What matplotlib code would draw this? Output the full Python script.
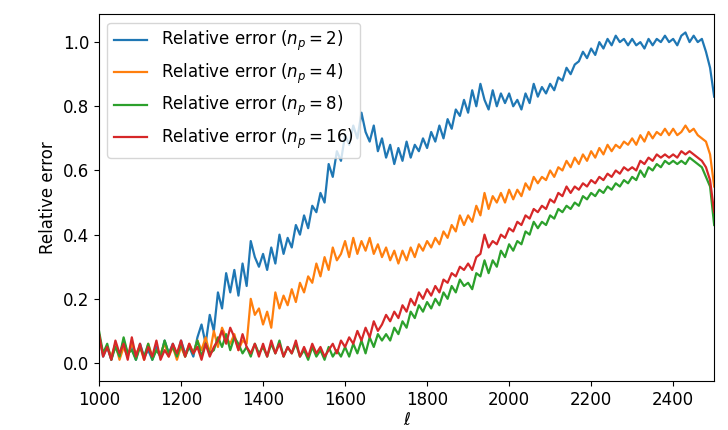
import numpy as np
import matplotlib
matplotlib.use('Agg')
import matplotlib.pyplot as plt

# multipole values, one sample every 10
ell = np.arange(1000, 2501, 10)

err_np2 = [
    0.09, 0.02, 0.05, 0.01, 0.06, 0.02, 0.07, 0.03, 0.05, 0.01,
    0.06, 0.02, 0.04, 0.01, 0.05, 0.02, 0.07, 0.03, 0.06, 0.02,
    0.07, 0.03, 0.05, 0.02, 0.08, 0.12, 0.06, 0.15, 0.10, 0.22,
    0.17, 0.28, 0.22, 0.29, 0.21, 0.31, 0.24, 0.38, 0.33, 0.30,
    0.34, 0.29, 0.36, 0.31, 0.40, 0.34, 0.39, 0.36, 0.43, 0.40,
    0.46, 0.42, 0.49, 0.47, 0.53, 0.50, 0.62, 0.58, 0.66, 0.63,
    0.71, 0.68, 0.74, 0.70, 0.78, 0.72, 0.69, 0.74, 0.66, 0.70,
    0.64, 0.68, 0.62, 0.67, 0.63, 0.69, 0.64, 0.68, 0.66, 0.70,
    0.67, 0.72, 0.69, 0.74, 0.70, 0.76, 0.73, 0.79, 0.77, 0.82,
    0.78, 0.85, 0.80, 0.87, 0.82, 0.79, 0.85, 0.80, 0.84, 0.81,
    0.84, 0.80, 0.82, 0.79, 0.84, 0.81, 0.87, 0.83, 0.86, 0.84,
    0.87, 0.85, 0.89, 0.88, 0.92, 0.90, 0.93, 0.94, 0.97, 0.95,
    0.98, 0.96, 1.00, 0.98, 1.01, 0.99, 1.02, 1.00, 1.01, 0.99,
    1.01, 0.99, 1.00, 0.98, 1.01, 0.99, 1.01, 1.00, 1.02, 1.00,
    1.01, 0.99, 1.02, 1.03, 1.00, 1.02, 1.00, 1.01, 0.97, 0.92,
    0.83]

err_np4 = [
    0.08, 0.03, 0.05, 0.02, 0.06, 0.01, 0.05, 0.02, 0.06, 0.03,
    0.05, 0.01, 0.06, 0.02, 0.04, 0.03, 0.06, 0.02, 0.05, 0.01,
    0.05, 0.02, 0.06, 0.03, 0.07, 0.04, 0.08, 0.03, 0.10, 0.05,
    0.11, 0.08, 0.06, 0.09, 0.04, 0.07, 0.06, 0.20, 0.15, 0.17,
    0.12, 0.16, 0.11, 0.22, 0.17, 0.21, 0.18, 0.23, 0.19, 0.25,
    0.22, 0.27, 0.25, 0.31, 0.27, 0.33, 0.29, 0.36, 0.32, 0.34,
    0.38, 0.33, 0.39, 0.34, 0.38, 0.35, 0.39, 0.34, 0.37, 0.33,
    0.36, 0.32, 0.35, 0.31, 0.35, 0.32, 0.36, 0.33, 0.37, 0.35,
    0.38, 0.36, 0.39, 0.37, 0.41, 0.39, 0.43, 0.41, 0.46, 0.43,
    0.46, 0.44, 0.49, 0.46, 0.53, 0.48, 0.52, 0.50, 0.53, 0.50,
    0.54, 0.51, 0.54, 0.52, 0.56, 0.54, 0.58, 0.56, 0.58, 0.57,
    0.60, 0.58, 0.61, 0.60, 0.63, 0.61, 0.64, 0.62, 0.65, 0.63,
    0.66, 0.64, 0.67, 0.65, 0.68, 0.66, 0.68, 0.67, 0.69, 0.68,
    0.70, 0.68, 0.71, 0.69, 0.72, 0.70, 0.72, 0.71, 0.73, 0.71,
    0.73, 0.71, 0.72, 0.74, 0.72, 0.73, 0.71, 0.70, 0.69, 0.65,
    0.55]

err_np8 = [
    0.10, 0.03, 0.06, 0.01, 0.05, 0.02, 0.08, 0.03, 0.04, 0.01,
    0.05, 0.02, 0.06, 0.01, 0.04, 0.02, 0.07, 0.03, 0.05, 0.02,
    0.06, 0.02, 0.05, 0.03, 0.07, 0.02, 0.06, 0.03, 0.04, 0.08,
    0.05, 0.09, 0.04, 0.08, 0.06, 0.03, 0.05, 0.02, 0.06, 0.03,
    0.05, 0.02, 0.06, 0.03, 0.07, 0.02, 0.05, 0.03, 0.06, 0.02,
    0.04, 0.01, 0.05, 0.02, 0.04, 0.01, 0.05, 0.02, 0.04, 0.02,
    0.05, 0.02, 0.06, 0.03, 0.07, 0.03, 0.08, 0.05, 0.09, 0.07,
    0.09, 0.07, 0.11, 0.09, 0.13, 0.11, 0.16, 0.14, 0.18, 0.16,
    0.19, 0.17, 0.20, 0.18, 0.22, 0.20, 0.24, 0.22, 0.26, 0.24,
    0.25, 0.23, 0.28, 0.27, 0.32, 0.28, 0.32, 0.30, 0.35, 0.33,
    0.37, 0.35, 0.38, 0.37, 0.41, 0.40, 0.44, 0.42, 0.44, 0.43,
    0.46, 0.45, 0.48, 0.47, 0.49, 0.48, 0.50, 0.49, 0.52, 0.51,
    0.53, 0.52, 0.54, 0.53, 0.55, 0.54, 0.56, 0.55, 0.57, 0.56,
    0.58, 0.57, 0.60, 0.58, 0.61, 0.60, 0.62, 0.61, 0.63, 0.62,
    0.63, 0.62, 0.63, 0.62, 0.64, 0.63, 0.62, 0.61, 0.58, 0.55,
    0.43]

err_np16 = [
    0.09, 0.02, 0.05, 0.01, 0.07, 0.03, 0.06, 0.01, 0.08, 0.02,
    0.06, 0.01, 0.05, 0.02, 0.07, 0.01, 0.04, 0.02, 0.06, 0.03,
    0.07, 0.02, 0.06, 0.03, 0.05, 0.01, 0.06, 0.02, 0.05, 0.07,
    0.10, 0.06, 0.11, 0.08, 0.04, 0.09, 0.05, 0.03, 0.06, 0.02,
    0.06, 0.02, 0.07, 0.03, 0.06, 0.02, 0.05, 0.03, 0.07, 0.02,
    0.05, 0.02, 0.06, 0.03, 0.05, 0.02, 0.04, 0.06, 0.03, 0.07,
    0.05, 0.08, 0.06, 0.10, 0.07, 0.11, 0.08, 0.13, 0.10, 0.12,
    0.15, 0.13, 0.16, 0.14, 0.18, 0.16, 0.20, 0.18, 0.22, 0.20,
    0.23, 0.21, 0.24, 0.22, 0.26, 0.25, 0.28, 0.27, 0.30, 0.29,
    0.31, 0.29, 0.33, 0.34, 0.40, 0.36, 0.38, 0.37, 0.40, 0.39,
    0.42, 0.41, 0.44, 0.43, 0.46, 0.45, 0.48, 0.47, 0.49, 0.48,
    0.51, 0.50, 0.53, 0.52, 0.55, 0.53, 0.55, 0.54, 0.56, 0.55,
    0.57, 0.56, 0.58, 0.57, 0.59, 0.58, 0.60, 0.59, 0.61, 0.60,
    0.61, 0.60, 0.63, 0.62, 0.64, 0.63, 0.65, 0.64, 0.65, 0.64,
    0.65, 0.64, 0.66, 0.65, 0.66, 0.65, 0.64, 0.63, 0.61, 0.57,
    0.47]

series = [(err_np2, 2), (err_np4, 4), (err_np8, 8), (err_np16, 16)]

plt.rcParams['font.size'] = 12
fig = plt.figure(figsize=(7.28, 4.3), dpi=100)
ax = fig.add_axes([0.136, 0.114, 0.845, 0.853])

for values, n_p in series:
    ax.plot(ell, values, lw=1.6,
            label=r'Relative error ($n_p = {}$)'.format(n_p))

ax.set_xlim(1000, 2500)
ax.set_ylim(-0.056, 1.087)
ax.set_xlabel(r'$\ell$', labelpad=2)
ax.set_ylabel('Relative error')
ax.legend(loc='upper left')

fig.savefig('out.png', dpi=100)
